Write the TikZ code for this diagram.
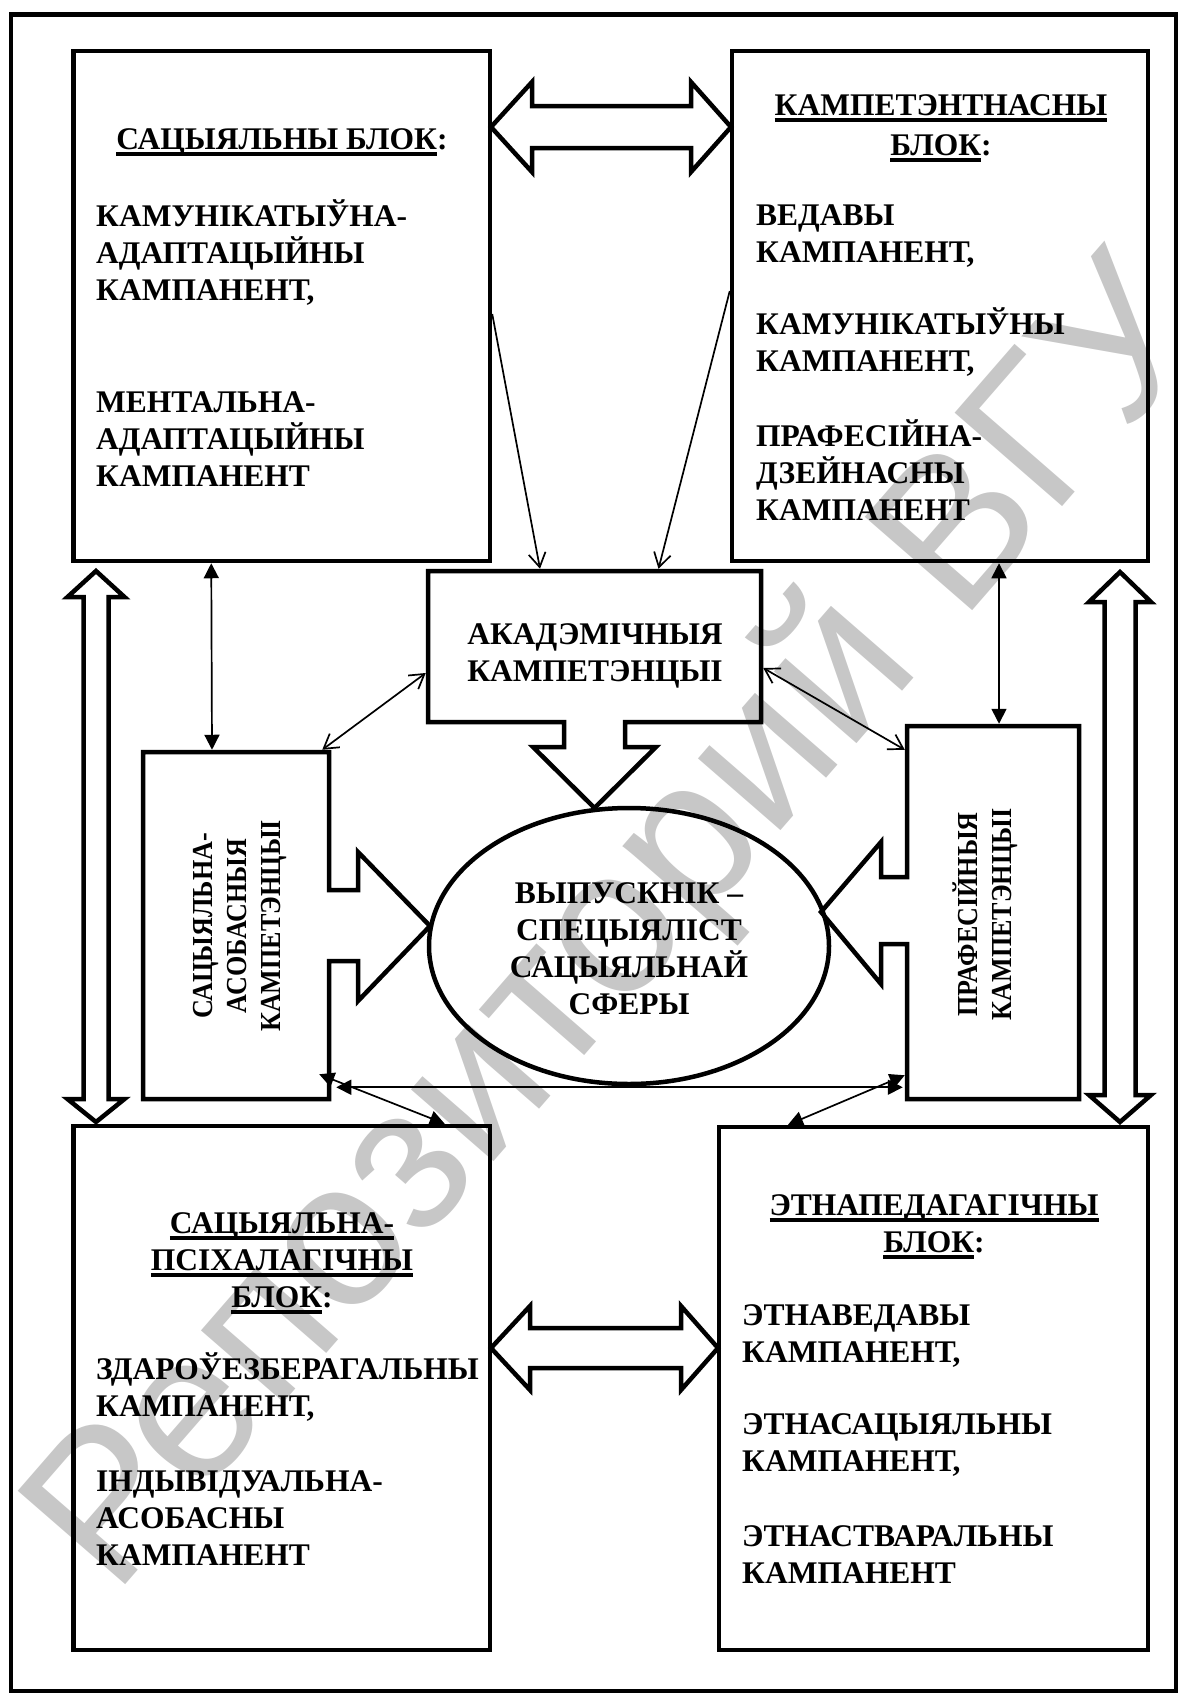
\documentclass[tikz,border=0pt]{standalone}
\usepackage{fontspec}
\setmainfont{Liberation Serif}
\newfontfamily\wmfont{Liberation Sans}
\usetikzlibrary{arrows.meta,shapes.geometric}

\newsavebox\ulbox
\newcommand{\undr}[1]{\sbox\ulbox{#1}\rlap{\rule[-6.8pt]{\wd\ulbox}{3.6pt}}\usebox\ulbox}

\tikzset{
  blockbox/.style={draw, line width=4.5pt, inner sep=0pt},
  area/.style={inner sep=0pt, outer sep=2.25pt},
  boxline/.style={line width=4.5pt, line join=miter},
  txt/.style={font=\bfseries\fontsize{31.5}{37}\selectfont, inner sep=0pt, align=left},
  head/.style={txt, align=center},
  vtxt/.style={font=\bfseries\fontsize{29}{34}\selectfont, inner sep=0pt, align=center, rotate=90, xscale=0.9},
  opento/.style={line width=1.7pt, -{Straight Barb[length=14pt,width=17pt]}},
  openlink/.style={line width=1.7pt, {Straight Barb[length=14pt,width=17pt]}-{Straight Barb[length=14pt,width=17pt]}},
  filledlink/.style={line width=1.7pt, {Triangle[length=15pt,width=15pt]}-{Triangle[length=15pt,width=15pt]}}
}

\begin{document}
\begin{tikzpicture}[x=1pt,y=-1pt]
        \useasboundingbox (0,0) rectangle (1182,1694);
        % watermark
        \node[font=\wmfont\fontsize{207}{207}\selectfont, text=black!22, rotate=49,
              anchor=base west, inner sep=0pt] (watermark) at (114,1598) {Репозиторий ВГУ};
        \draw[line width=4.5pt] (11,14.5) rectangle (1176,1691);

        % four blocks (text nodes sit on the baseline of their last line)
        \node[blockbox, minimum width=416.5pt, minimum height=510pt] (social) at (281.75,306) {};
        \node[blockbox, minimum width=416pt, minimum height=510pt] (competence) at (940,306) {};
        \node[blockbox, minimum width=416.5pt, minimum height=524pt] (psych) at (281.75,1388) {};
        \node[blockbox, minimum width=429pt, minimum height=523pt] (ethno) at (933.5,1388.5) {};

        \node[txt, anchor=base] (social head) at (282,149) {\undr{САЦЫЯЛЬНЫ БЛОК}:};
        \node[txt, anchor=base west] (social p1) at (96,300.5) {КАМУНІКАТЫЎНА-\\АДАПТАЦЫЙНЫ\\КАМПАНЕНТ,};
        \node[txt, anchor=base west] (social p2) at (96,486) {МЕНТАЛЬНА-\\АДАПТАЦЫЙНЫ\\КАМПАНЕНТ};

        \node[head, anchor=base] (competence head) at (941,155) {\undr{КАМПЕТЭНТНАСНЫ}\\[3pt]\undr{БЛОК}:};
        \node[txt, anchor=base west] (competence p1) at (756,262) {ВЕДАВЫ\\КАМПАНЕНТ,};
        \node[txt, anchor=base west] (competence p2) at (756,371) {КАМУНІКАТЫЎНЫ\\КАМПАНЕНТ,};
        \node[txt, anchor=base west] (competence p3) at (756,520) {ПРАФЕСІЙНА-\\ДЗЕЙНАСНЫ\\КАМПАНЕНТ};

        \node[head, anchor=base] (psych head) at (282,1307) {\undr{САЦЫЯЛЬНА-}\\\undr{ПСІХАЛАГІЧНЫ}\\\undr{БЛОК}:};
        \node[txt, anchor=base west] (psych p1) at (96,1416.7) {ЗДАРОЎЕЗБЕРАГАЛЬНЫ\\КАМПАНЕНТ,};
        \node[txt, anchor=base west] (psych p2) at (96,1565.5) {ІНДЫВІДУАЛЬНА-\\АСОБАСНЫ\\КАМПАНЕНТ};

        \node[head, anchor=base] (ethno head) at (934,1252) {\undr{ЭТНАПЕДАГАГІЧНЫ}\\\undr{БЛОК}:};
        \node[txt, anchor=base west] (ethno p1) at (742,1362) {ЭТНАВЕДАВЫ\\КАМПАНЕНТ,};
        \node[txt, anchor=base west] (ethno p2) at (742,1471.5) {ЭТНАСАЦЫЯЛЬНЫ\\КАМПАНЕНТ,};
        \node[txt, anchor=base west] (ethno p3) at (742,1583) {ЭТНАСТВАРАЛЬНЫ\\КАМПАНЕНТ};

        % wide double arrows between the blocks
        \draw[boxline] (491,127) -- (532,82) -- (532,106) -- (691,106) -- (691,82) -- (731,127)
            -- (691,172) -- (691,148) -- (532,148) -- (532,172) -- cycle;
        \draw[boxline] (491,1348) -- (530,1306) -- (530,1328) -- (681,1328) -- (681,1306) -- (718,1348)
            -- (681,1390) -- (681,1368) -- (530,1368) -- (530,1390) -- cycle;
        \draw[boxline] (96,571) -- (124.5,597) -- (108.5,597) -- (108.5,1099) -- (124.5,1099) -- (96,1122)
            -- (67.5,1099) -- (83.5,1099) -- (83.5,597) -- (67.5,597) -- cycle;
        \draw[boxline] (1120,572) -- (1151,602) -- (1135.5,602) -- (1135.5,1095) -- (1151,1095) -- (1120,1122)
            -- (1089,1095) -- (1104.5,1095) -- (1104.5,602) -- (1089,602) -- cycle;

        % competences round the graduate
        \node[area, minimum width=333pt, minimum height=151pt] (academic) at (594.5,646.5) {};
        \node[area, minimum width=186pt, minimum height=347pt] (socpers) at (236,925.5) {};
        \node[area, minimum width=172pt, minimum height=373pt] (prof) at (993,912.5) {};
        \draw[boxline] (428,571) -- (761,571) -- (761,722) -- (625,722) -- (625,747) -- (656,747)
            -- (594.5,808) -- (533,747) -- (564,747) -- (564,722) -- (428,722) -- cycle;
        \draw[boxline] (143,752) -- (329,752) -- (329,890) -- (358,890) -- (358,852) -- (430,926)
            -- (358,1001) -- (358,961) -- (329,961) -- (329,1099) -- (143,1099) -- cycle;
        \draw[boxline] (907,726) -- (1079,726) -- (1079,1099) -- (907,1099) -- (907,944) -- (881,944)
            -- (881,984) -- (821,912) -- (881,842) -- (881,877) -- (907,877) -- cycle;
        \node[ellipse, draw, line width=4.5pt, inner sep=0pt, minimum width=400pt, minimum height=276pt]
            (graduate) at (629,946) {};

        \node[head, anchor=base] (academic text) at (595,681.6) {АКАДЭМІЧНЫЯ\\КАМПЕТЭНЦЫІ};
        \node[head, anchor=base] (graduate text) at (629,1014.5) {ВЫПУСКНІК –\\СПЕЦЫЯЛІСТ\\САЦЫЯЛЬНАЙ\\СФЕРЫ};
        \node[vtxt] (socpers text) at (240,926) {САЦЫЯЛЬНА-\\АСОБАСНЫЯ\\КАМПЕТЭНЦЫІ};
        \node[vtxt] (prof text) at (985,914.5) {ПРАФЕСІЙНЫЯ\\КАМПЕТЭНЦЫІ};

        % thin links
        \draw[opento] ([yshift=-8pt]social.east) -- ([xshift=-54.5pt]academic.north);
        \draw[opento] ([yshift=15pt]competence.west) -- ([xshift=64pt]academic.north);
        \draw[filledlink] ([xshift=-70.5pt]social.south) -- ([xshift=-24pt]socpers.north);
        \draw[filledlink] ([xshift=59pt]competence.south) -- ([xshift=6pt]prof.north);
        \draw[openlink] ([xshift=-9pt]socpers.north east) -- ([yshift=-26.5pt]academic.west);
        \draw[openlink] ([yshift=-21.5pt]academic.east) -- ([yshift=-26pt]prof.north west);
        \draw[filledlink] ([xshift=5pt,yshift=14pt]socpers.south east) -- ([xshift=-2pt,yshift=14pt]prof.south west);
        \draw[filledlink] ([xshift=-12pt,yshift=27pt]socpers.south east) -- ([xshift=163pt]psych.north);
        \draw[filledlink] ([yshift=26pt]prof.south west) -- ([xshift=-145.5pt]ethno.north);
    \end{tikzpicture}
\end{document}
